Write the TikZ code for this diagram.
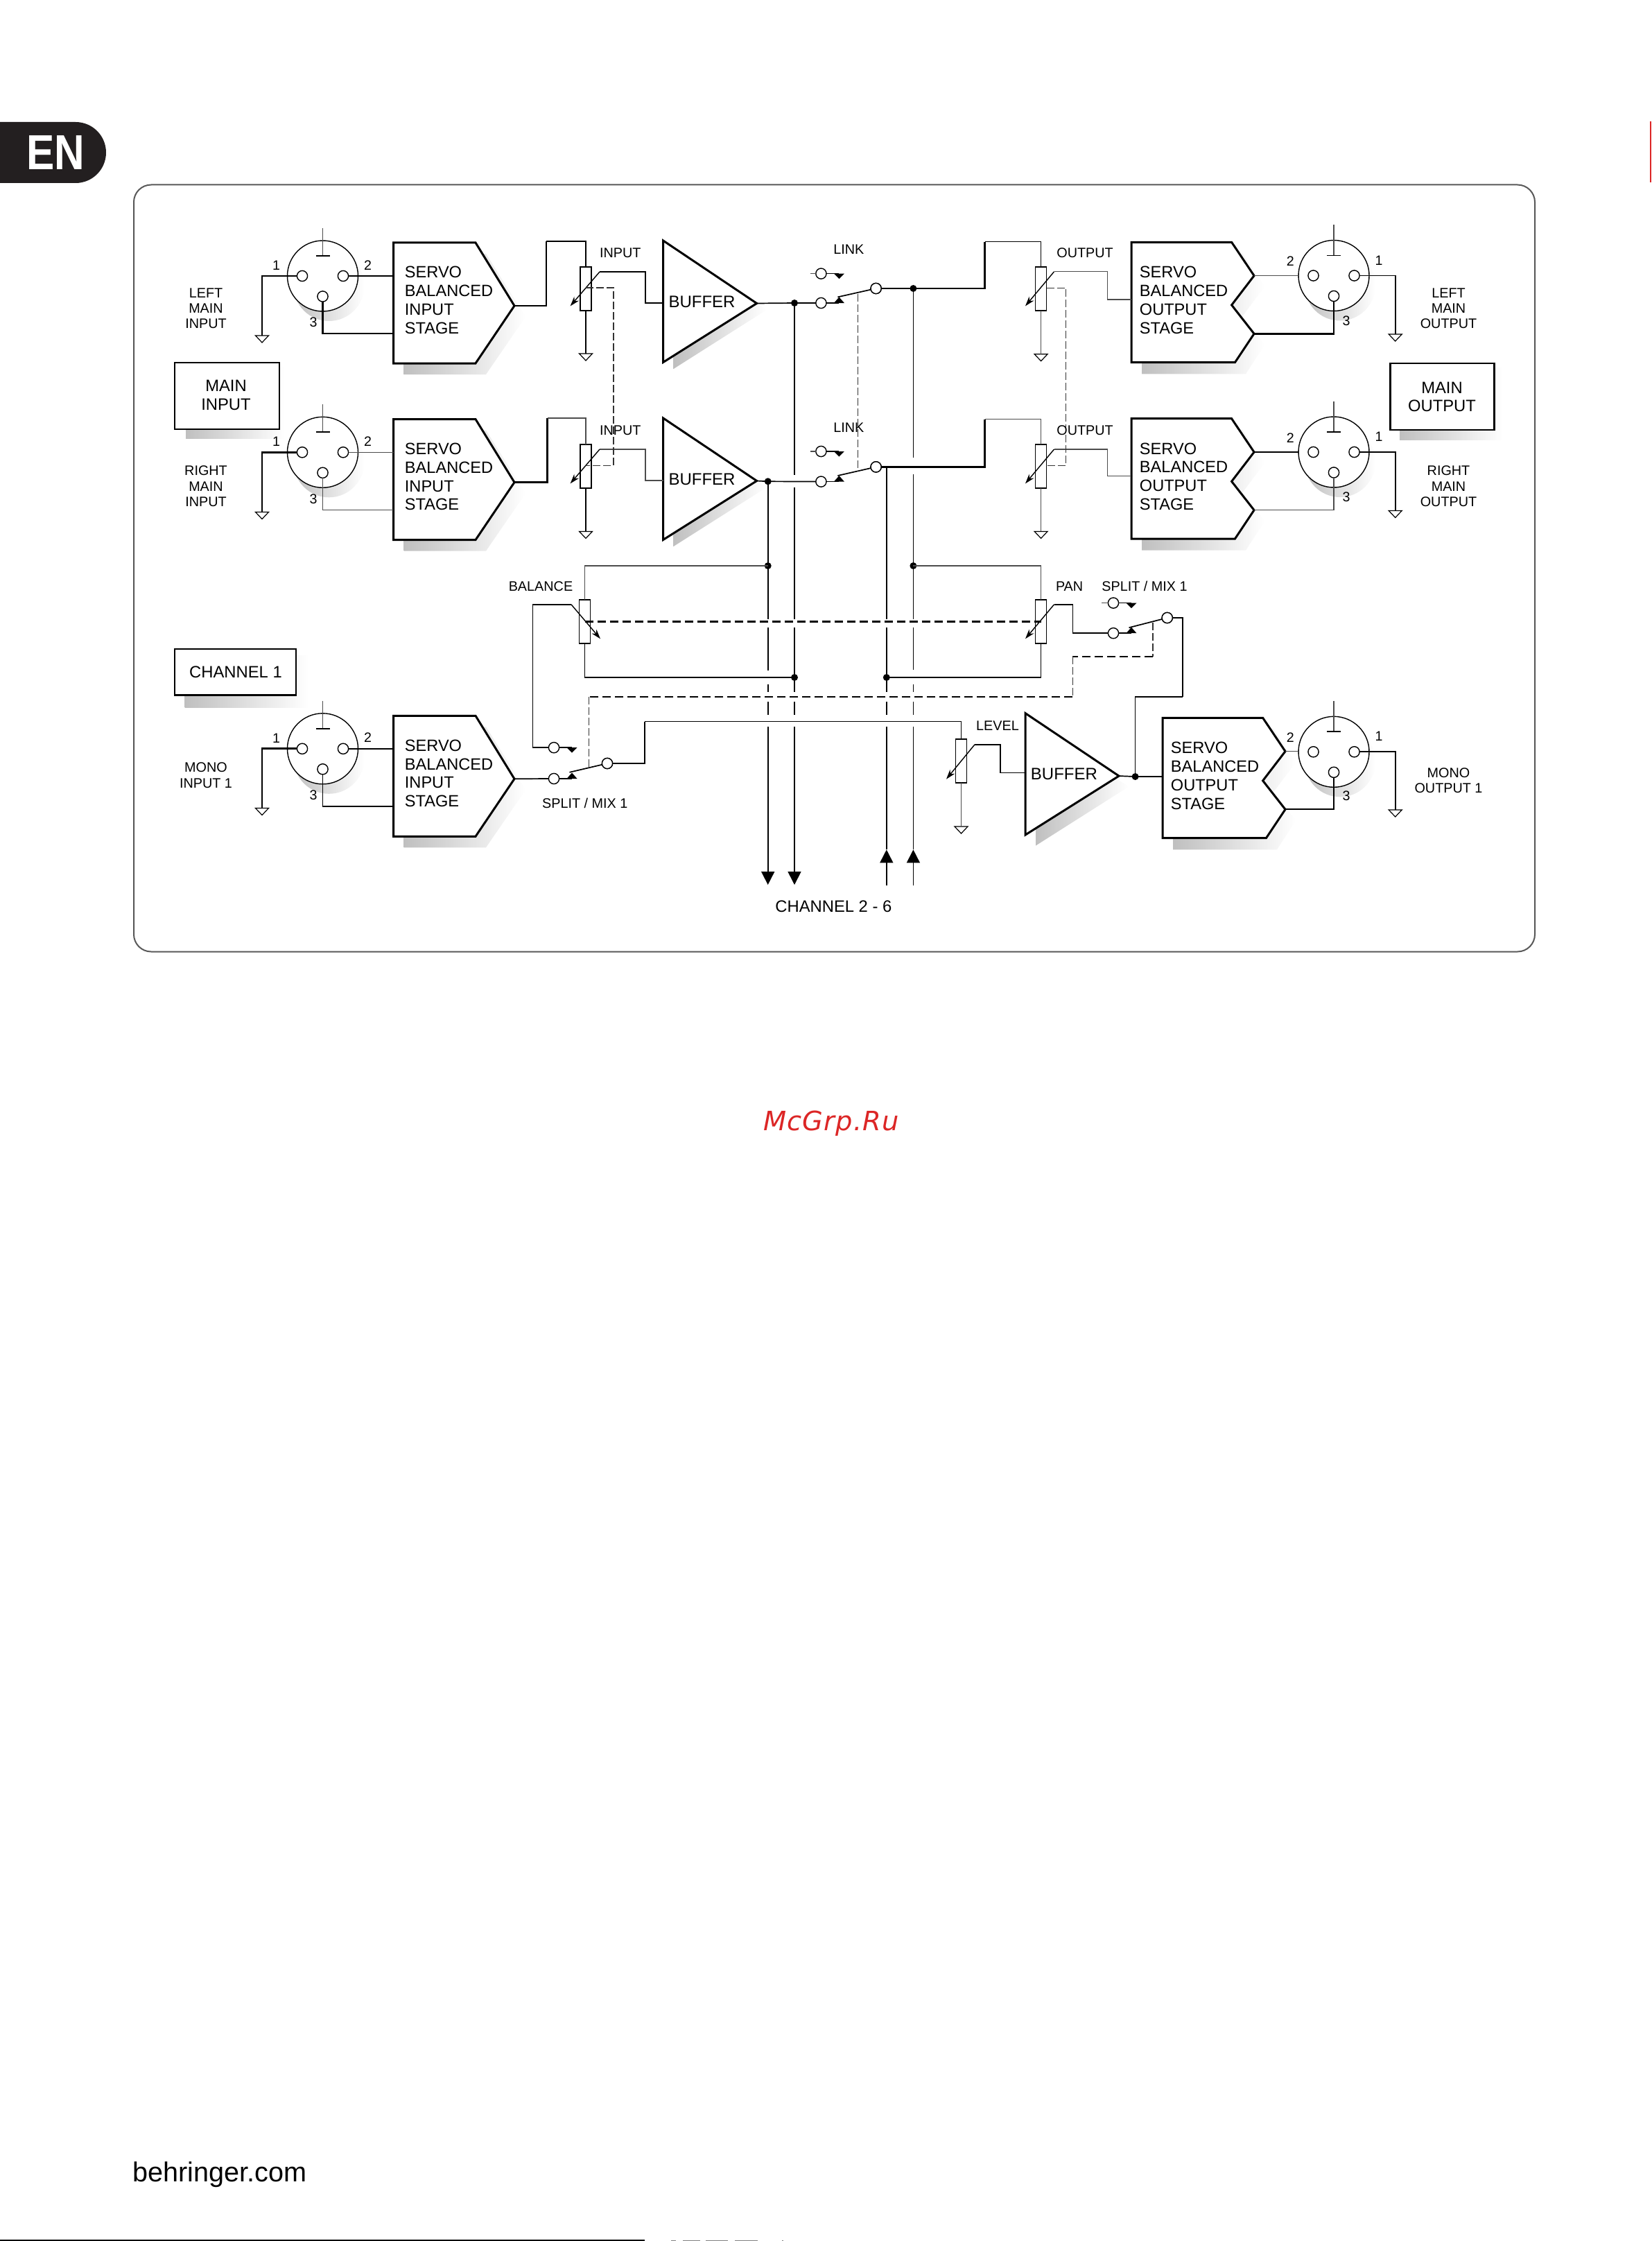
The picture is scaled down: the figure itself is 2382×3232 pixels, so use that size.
\documentclass[tikz,border=0pt]{standalone}
\usepackage{fontspec}
\setmainfont{Liberation Sans}
\newfontfamily\wmfont[LetterSpace=3]{DejaVu Sans}
\usetikzlibrary{arrows.meta,calc}
\definecolor{enblack}{HTML}{231F20}
\definecolor{wmred}{HTML}{DC2626}
\tikzset{
  wire/.style={line width=.85pt,line join=miter},
  wthick/.style={line width=1.35pt,line join=miter},
  wthin/.style={line width=.6pt,line join=miter,draw=black!70},
  dashthin/.style={line width=.55pt,dash pattern=on 5.5pt off 2pt,draw=black!80},
  dashheavy/.style={line width=1.1pt,dash pattern=on 6pt off 3pt},
  boxline/.style={line width=1.5pt,fill=white,line join=miter},
  wiper/.style={line width=.7pt,-{Stealth[length=7pt,width=4.5pt]}},
  bigtip/.style={line width=.85pt,-{Triangle[length=9.5pt,width=9.5pt]}},
  pin/.style={circle,draw,fill=white,line width=.7pt,inner sep=0pt,minimum size=7.6pt,outer sep=0pt},
  xlrbody/.style={circle,draw,fill=white,line width=.7pt,inner sep=0pt,minimum size=51pt,outer sep=0pt},
  potbox/.style={rectangle,draw,fill=white,line width=.8pt,inner sep=0pt,minimum width=8pt,minimum height=31.5pt,outer sep=0pt},
  dot/.style={circle,fill=black,inner sep=0pt,minimum size=5pt},
  gndtri/.style={line width=.6pt,fill=white,line join=miter},
  small/.style={font=\fontsize{9.9}{11.15}\selectfont,inner sep=0pt,align=center,text depth=0pt},
  num/.style={font=\fontsize{9.8}{10}\selectfont,inner sep=0pt},
  stage/.style={font=\fontsize{11.8}{13.4}\selectfont,inner sep=0pt,align=left,anchor=west},
  title/.style={font=\fontsize{11.9}{13.3}\selectfont,inner sep=0pt,align=center},
  titlebox/.style={draw,fill=white,line width=1.1pt,inner sep=0pt,outer sep=0pt},
  shadowfade/.style={left color=black!25,right color=white,draw=none},
  busgap/.style={draw=white,line width=3pt},
}
\newcommand{\xlr}[4]{% name, cx, cy, top line length
  \shade[shadowfade] ($(#2,#3)+(9,14)$) circle [radius=25.5pt];
  \node[xlrbody] (#1) at (#2,#3) {};
  \coordinate (#1-t) at ($(#1)+(0,-#4)$);
  \coordinate (#1-bar) at ($(#1)+(0,-29)$);
  \draw[wthin] (#1-t) -- (#1-bar);
  \draw[wire] ($(#1-bar)+(-10,0)$) -- ($(#1-bar)+(10,0)$);
  \node[pin] (#1-l) at ($(#1)+(-29.5,0)$) {};
  \node[pin] (#1-r) at ($(#1)+(29.5,0)$) {};
  \node[pin] (#1-b) at ($(#1)+(0,29.5)$) {};
}
\newcommand{\gnd}[3]{% name, x, y
  \coordinate (#1) at (#2,#3);
  \draw[gndtri] ($(#1)+(-9.5,0)$) -- ($(#1)+(9.5,0)$) -- ($(#1)+(0,10)$) -- cycle;
}
\newcommand{\inbox}[2]{% name, top
  \begin{scope}[shift={(567.5,#2)}]
    \shade[shadowfade] (15,16) -- (133.5,16) -- (190.5,107) -- (133.5,190) -- (15,190) -- cycle;
    \draw[boxline] (0,0) -- (118.5,0) -- (174.5,91) -- (118.5,174) -- (0,174) -- cycle;
    \coordinate (#1-w) at (0,48);
    \coordinate (#1-s) at (0,131);
    \coordinate (#1-tip) at (174.5,91);
    \node[stage] (#1-txt) at (16,83) {SERVO\\BALANCED\\INPUT\\STAGE};
  \end{scope}
}
\newcommand{\outbox}[3]{% name, left, top
  \begin{scope}[shift={(#2,#3)}]
    \shade[shadowfade] (15,16) -- (160,16) -- (192,64) -- (160,107) -- (192,148) -- (165,190) -- (15,190) -- cycle;
    \draw[boxline] (0,0) -- (144.6,0) -- (177,48.3) -- (144.6,90.6) -- (177,132) -- (149.5,173.3) -- (0,173.3) -- cycle;
    \coordinate (#1-w) at (0,82.7);
    \coordinate (#1-p1) at (177,48.3);
    \coordinate (#1-p2) at (177,132);
    \node[stage] (#1-txt) at (11.5,83.5) {SERVO\\BALANCED\\OUTPUT\\STAGE};
  \end{scope}
}
\newcommand{\buffer}[5]{% name, left, top, shadow dy, text dy
  \begin{scope}[shift={(#2,#3)}]
    \shade[shadowfade] (15,#4) -- (149,{90+#4}) -- (15,{175+#4}) -- cycle;
    \draw[boxline] (0,0) -- (135,90.5) -- (0,175.5) -- cycle;
    \coordinate (#1-w) at (0,90);
    \coordinate (#1-tip) at (135,90.5);
    \node[stage,font=\fontsize{12}{13.4}\selectfont] (#1-txt) at (7.5,#5) {BUFFER};
  \end{scope}
}
\newcommand{\swtri}[2]{% up/down triangle at a pin; pin node, direction
  \fill ($(#1)+(18.5,0)$) -- ($(#1)+(33.5,0)$) -- ($(#1)+(26,#2)$) -- cycle;
  \draw[wire] (#1.east) -- ($(#1)+(26,0)$);
}
\begin{document}
\begin{tikzpicture}[x=.5pt,y=-.5pt]
\useasboundingbox (0,0) rectangle (2382,3232);
\fill[white] (0,0) rectangle (2382,3232);

% page furniture
\fill[enblack] (0,176) -- (109,176) arc (-90:90:44) -- (0,264) -- cycle;
\node[text=white,inner sep=0pt,font=\fontsize{35.5}{35.5}\selectfont\bfseries] (entext) at (80,220) {\scalebox{.85}[1]{EN}};
\fill[wmred] (2380.4,175) rectangle (2382,263);
\node[inner sep=0pt,anchor=base west,font=\fontsize{19.8}{19.8}\selectfont] (site) at (191,3146.7) {behringer.com};
\node[inner sep=0pt,anchor=base,text=wmred,font=\wmfont\itshape\fontsize{19.2}{19.2}\selectfont] (wm) at (1199,1630.7) {McGrp.Ru};
\fill (0,3230) rectangle (930,3232);
\foreach \a/\b in {968/975,985/1010,1018/1050,1060/1093,1128/1130}{\fill[black!50] (\a,3231) rectangle (\b,3232);}

% frame
\draw[line width=1pt,draw=black!65,rounded corners=12.5pt] (193,266.5) rectangle (2214,1372.5);

% title boxes
\shade[shadowfade] (268,530) rectangle (410,632.5);
\node[titlebox,minimum width=75.5pt,minimum height=48pt] (mainin) at (327.5,571) {};
\node[title] (maininT) at (326,569.7) {MAIN\\INPUT};
\shade[shadowfade] (2019,530) rectangle (2168,634.3);
\node[titlebox,minimum width=75pt,minimum height=48pt] (mainout) at (2080.4,571.6) {};
\node[title] (mainoutT) at (2080,572.5) {MAIN\\OUTPUT};
\shade[shadowfade] (266.5,945) rectangle (445,1020);
\node[titlebox,minimum width=87.5pt,minimum height=33.5pt] (chan) at (339.5,969.2) {};
\node[title] (chanT) at (340,969) {CHANNEL 1};
\draw[line width=1.5pt] (chan.south west) -- (chan.south east);

% connectors on XLR
\xlr{xa}{465.5}{398}{69}
\xlr{xb}{465.5}{652.3}{69}
\xlr{xm}{465.5}{1079.8}{69}
\xlr{xc}{1924}{397.5}{73.5}
\xlr{xd}{1924}{652}{73.5}
\xlr{xo}{1924}{1084.3}{73.5}

% stages
\inbox{ia}{350}
\inbox{ib}{604.6}
\inbox{im}{1032.3}
\outbox{oa}{1632}{349.3}
\outbox{ob}{1632}{603.7}
\outbox{om}{1677}{1035.3}
\buffer{ba}{956.6}{347}{10}{88}
\buffer{bb}{956.6}{603}{10}{88}
\buffer{bm}{1479}{1028.6}{16}{87.5}

% pots
\node[potbox] (pa) at (845,416.5) {};
\node[potbox] (pb) at (845,672.3) {};
\node[potbox] (pc) at (1501.6,416.5) {};
\node[potbox] (pd) at (1501.6,672.3) {};
\node[potbox] (pbal) at (843.5,896.5) {};
\node[potbox] (ppan) at (1501.6,896.5) {};
\node[potbox] (plev) at (1386.5,1097.7) {};

% grounds
\gnd{ga}{378}{484}
\gnd{gb}{378}{738.5}
\gnd{gm}{378}{1165.5}
\gnd{gpa}{845}{510}
\gnd{gpb}{845}{766.4}
\gnd{gpc}{1501.6}{510.7}
\gnd{gpd}{1501.6}{766.4}
\gnd{gc}{2012.7}{482}
\gnd{gd}{2012.7}{736.5}
\gnd{go}{2012.7}{1168}
\gnd{gpl}{1386.5}{1192}

% switches: pins
\node[pin] (sau) at (1184.4,394.6) {};
\node[pin] (sal) at (1184.4,437) {};
\node[pin] (sar) at (1263.6,416) {};
\node[pin] (sbu) at (1184.4,651) {};
\node[pin] (sbl) at (1184.4,694.6) {};
\node[pin] (sbr) at (1263.6,673.4) {};
\node[pin] (smu) at (799,1078.2) {};
\node[pin] (sml) at (799,1123) {};
\node[pin] (smr) at (876,1101) {};
\node[pin] (spu) at (1606,869.6) {};
\node[pin] (spl) at (1606,913.2) {};
\node[pin] (spr) at (1683.7,891) {};
\foreach \p in {sau,sbu,smu,spu}{\swtri{\p}{7.5}}
\foreach \p in {sal,sbl,sml,spl}{\swtri{\p}{-8.5}}
\coordinate (leada) at (1169,394.6);
\coordinate (leadb) at (1169,651);
\coordinate (leadp) at (1589,869.6);
\draw[wthin] (leada) -- (sau.west);
\draw[wthin] (leadb) -- (sbu.west);
\draw[wthin] (leadp) -- (spu.west);
\coordinate (blA) at ($(sal)+(24,-8.6)$);
\coordinate (blB) at ($(sbl)+(24,-8.6)$);
\coordinate (blM) at ($(sml)+(22.5,-9.2)$);
\coordinate (blP) at ($(spl)+(22.5,-8)$);
\draw[wire] (blA) -- (sar);
\draw[wire] (blB) -- (sbr);
\draw[wire] (blM) -- (smr);
\draw[wire] (blP) -- (spr);
\foreach \p in {sar,sbr,smr,spr}{\node[pin] at (\p) {};}

% dots
\node[dot] (da) at (1146,437) {};
\node[dot] (db) at (1107.7,694.3) {};
\node[dot] (dbt) at (1107.7,816) {};
\node[dot] (dbb) at (1146,977) {};
\node[dot] (dd) at (1317.4,416) {};
\node[dot] (ddt) at (1317.4,816) {};
\node[dot] (dcb) at (1278.8,977) {};
\node[dot] (dm) at (1637.6,1120) {};

% bus lines
\coordinate (tipA) at (1107.7,1276);
\coordinate (tipB) at (1146,1276);
\coordinate (endC) at (1278.8,1277);
\coordinate (endD) at (1317.4,1277);
\coordinate (topC) at (1278.8,1225.4);
\coordinate (topD) at (1317.4,1225.4);
\coordinate (jC) at (1278.8,673.4);
\draw[bigtip] (db.center) -- (tipA);
\draw[bigtip] (da.center) -- (tipB);
\draw[bigtip] (endC) -- (topC);
\draw[bigtip] (endD) -- (topD);
\draw[wire] (topC) -- (jC);
\draw[wire] (topD) -- (dd.center);
% gaps at crossings
\foreach \x/\a/\b in {
  1107.7/892.5/905.4, 1107.7/966.5/986.8, 1107.7/998/1012, 1107.7/1031/1048,
  1146/685/703, 1146/892.5/905.4, 1146/998/1012, 1146/1031/1048,
  1278.8/892.5/905.4, 1278.8/998/1012, 1278.8/1031/1048,
  1317.4/660/684, 1317.4/892.5/905.4, 1317.4/966/987, 1317.4/998/1012, 1317.4/1031/1048}
  {\draw[busgap] (\x,\a) -- (\x,\b);}

% left XLR wiring
\draw[wthick] (xa-l.west) -| (ga);
\draw[wthick] (xa-r.east) -- (xa-r.east -| ia-w);
\draw[wthick] (xa-b.south) |- (ia-s);
\draw[wthick] (xb-l.west) -| (gb);
\draw[wthin] (xb-r.east) -- (xb-r.east -| ib-w);
\draw[wthin] (xb-b.south) |- (ib-s);
\draw[wthick] (xm-l.west) -| (gm);
\draw[wire] (xm-r.east) -- (xm-r.east -| im-w);
\draw[wire] (xm-b.south) |- (im-s);

% input stage -> input pot -> buffer
\coordinate (ra) at (788,348);
\coordinate (rb) at (789.5,603);
\draw[wire] (ia-tip) -| (ra);
\draw[wire] (ra) -| (pa.north);
\draw[wthick] (ib-tip) -| (rb);
\draw[wthin] (rb) -| (pb.north);
\draw[wire] (pa.south) -- (gpa);
\draw[wire] (pb.south) -- (gpb);
\coordinate (wa) at (865,392);
\coordinate (wat) at (822.6,441.4);
\coordinate (ka) at (931,392);
\coordinate (wb) at (865,648);
\coordinate (wbt) at (822.6,697.4);
\coordinate (kb) at (931,648);
\draw[wire] (wa) -- (ka) |- (ba-w);
\draw[wthin] (wb) -- (kb) |- (bb-w);
\draw[wiper] (wa) -- (wat);
\draw[wiper] (wb) -- (wbt);
\coordinate (dia) at (885,415);
\coordinate (dib) at (885,671.4);
\draw[dashthin] (dia -| pa.center) -- (dia) -- (dib) -- (dib -| pb.center);

% buffer -> LINK switch -> output pot -> output stage
\draw[wire] (ba-tip) -- (da.center) -- (sal.west);
\draw[wire] (bb-tip) -- (db.center) -- (sbl.west);
\draw[wthick] (sar.east) -- (dd.center);
\coordinate (rc) at (1420.7,348.6);
\coordinate (rd) at (1420.7,604.6);
\draw[wthick] (dd.center) -| (rc);
\draw[wire] (rc) -| (pc.north);
\draw[wthick] (sbr.east) -| (rd);
\draw[wthin] (rd) -| (pd.north);
\draw[wthin] (pc.south) -- (gpc);
\draw[wthin] (pd.south) -- (gpd);
\coordinate (wc) at (1520.5,391.8);
\coordinate (wct) at (1479,441.4);
\coordinate (kc) at (1597.6,391.8);
\coordinate (wd) at (1520.5,648);
\coordinate (wdt) at (1479,697.4);
\coordinate (kd) at (1597.6,648);
\draw[wthin] (wc) -- (kc) |- (oa-w);
\draw[wthin] (wd) -- (kd) |- (ob-w);
\draw[wiper] (wc) -- (wct);
\draw[wiper] (wd) -- (wdt);
\coordinate (doa) at (1537.7,415.4);
\coordinate (dob) at (1537.7,671.4);
\draw[dashthin] (doa -| pc.east) -- (doa) -- (dob) -- (dob -| pd.east);
\coordinate (lka) at (1237.5,424);
\coordinate (lkb) at (1237.5,680);
\draw[dashthin] (lka) -- (lkb);

% output stage -> right XLR
\draw[wthin] (oa-p1) -- (oa-p1 -| xc.west);
\draw[wthick] (oa-p2) -| (xc-b.south);
\draw[wthick] (ob-p1) -- (ob-p1 -| xd.west);
\draw[wthin] (ob-p2) -| (xd-b.south);
\draw[wire] (xc-r.east) -| (gc);
\draw[wire] (xd-r.east) -| (gd);

% balance and pan
\draw[wthin] (dbt.center) -| (pbal.north);
\draw[wire] (pbal.south) |- (dbb.center);
\draw[wthin] (ddt.center) -| (ppan.north);
\draw[wire] (ppan.south) |- (dcb.center);
\coordinate (wbal) at (824,871.8);
\coordinate (wbalt) at (866,921.3);
\coordinate (kbal) at (768.4,871.8);
\draw[wire] (wbal) -- (kbal) |- (smu.west);
\draw[wiper] (wbal) -- (wbalt);
\coordinate (wpan) at (1520.5,871.8);
\coordinate (wpant) at (1479,921.3);
\coordinate (kpan) at (1547.4,871.8);
\draw[wire] (wpan) -- (kpan) |- (spl.west);
\draw[wiper] (wpan) -- (wpant);
\draw[dashheavy] (pbal.center) -- (ppan.center);
\coordinate (dsa) at (1663,947.2);
\coordinate (dsb) at (1547.4,947.2);
\coordinate (dsc) at (1547.4,1005);
\coordinate (dsd) at (849.4,1005);
\coordinate (dse) at (849.4,1108);
\coordinate (dsf) at (1663,898);
\draw[dashthin] (dsf) -- (dsa);
\draw[dashheavy] (dsa) -- (dsb);
\draw[dashthin] (dsb) -- (dsc);
\draw[dashheavy] (dsc) -- (dsd);
\draw[dashthin] (dsd) -- (dse);

% mono signal path
\draw[wire] (im-tip) -- (sml.west);
\coordinate (ml) at (930,1040.5);
\draw[wire] (smr.east) -| (ml);
\draw[wire] (ml) -| (plev.north);
\draw[wthin] (plev.south) -- (gpl);
\coordinate (wl) at (1406,1073.8);
\coordinate (wlt) at (1365,1123.7);
\coordinate (kl) at (1442.7,1073.8);
\coordinate (bm-in) at (1479,1114.5);
\draw[wire] (wl) -- (kl) |- (bm-in);
\draw[wiper] (wl) -- (wlt);
\draw[wire] (bm-tip) -- (dm.center) -- (dm.center -| om-w);
\coordinate (mu) at (1705.8,1005.3);
\draw[wire] (dm.center) |- (mu);
\draw[wire] (mu) |- (spr.east);
\draw[wthin] (om-p1) -- (om-p1 -| xo.west);
\draw[wire] (om-p2) -| (xo-b.south);
\draw[wire] (xo-r.east) -| (go);

% pin numbers
\foreach \n/\t/\x/\y in {
  n1a/1/398.5/382.5, n2a/2/530.5/382.5, n3a/3/452/465,
  n1b/1/398.5/637, n2b/2/530.5/637, n3b/3/452/719.5,
  n1m/1/398.5/1064.5, n2m/2/530.5/1064, n3m/3/452/1146.7,
  n2c/2/1861.4/377, n1c/1/1989/375.4, n3c/3/1942/462.5,
  n2d/2/1861.4/631.5, n1d/1/1989/630, n3d/3/1942/717,
  n2o/2/1861.4/1063.8, n1o/1/1989/1062, n3o/3/1942/1147.8}
  {\node[num] (\n) at (\x,\y) {\t};}

% labels
\node[small] (lma) at (297,444.8) {LEFT\\MAIN\\INPUT};
\node[small] (lmb) at (297,701.3) {RIGHT\\MAIN\\INPUT};
\node[small] (lmc) at (297,1118.2) {MONO\\INPUT 1};
\node[small] (lmd) at (2089.5,444.8) {LEFT\\MAIN\\OUTPUT};
\node[small] (lme) at (2089.5,701.3) {RIGHT\\MAIN\\OUTPUT};
\node[small] (lmf) at (2089.5,1125.6) {MONO\\OUTPUT 1};
\node[small,anchor=west] (lia) at (864.7,365) {INPUT};
\node[small,anchor=west] (lib) at (864.7,620.7) {INPUT};
\node[small,anchor=west] (loa) at (1524,365) {OUTPUT};
\node[small,anchor=west] (lob) at (1524,620.7) {OUTPUT};
\node[small] (lla) at (1224.4,360) {LINK};
\node[small] (llb) at (1224.4,617) {LINK};
\node[small] (lbal) at (780,845.2) {BALANCE};
\node[small] (lpan) at (1542.6,845.2) {PAN};
\node[small] (lsp) at (1651,845.2) {SPLIT / MIX 1};
\node[small] (lsm) at (843.7,1158) {SPLIT / MIX 1};
\node[small] (llv) at (1439,1046.8) {LEVEL};
\node[title] (ch26) at (1202.4,1307.6) {CHANNEL 2 - 6};
\end{tikzpicture}
\end{document}
